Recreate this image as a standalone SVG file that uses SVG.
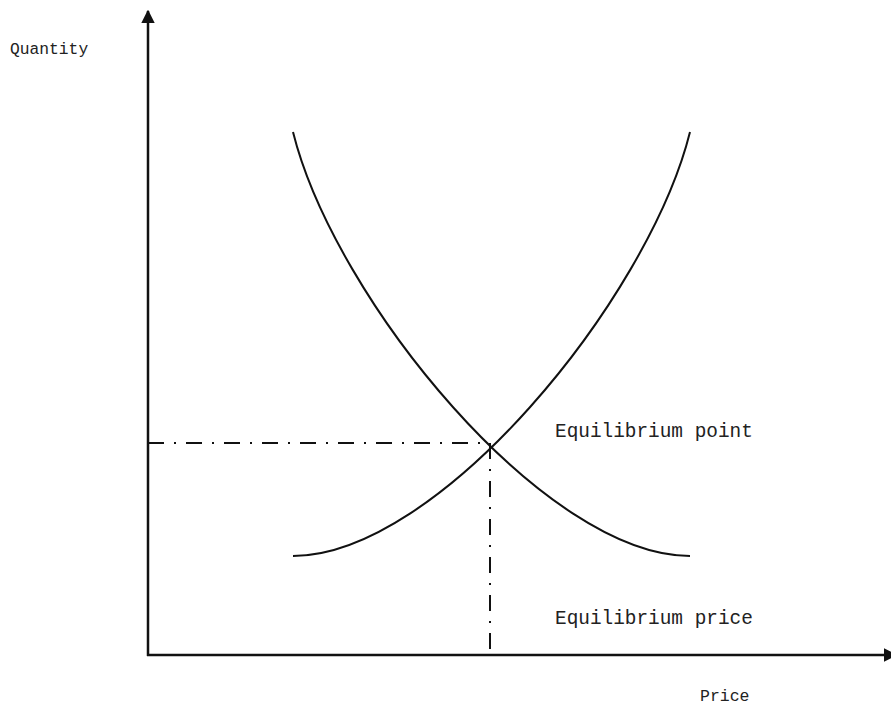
<svg xmlns="http://www.w3.org/2000/svg" width="891" height="707" viewBox="0 0 891 707">
  <style>
    .axis { stroke: #111; stroke-width: 2.5; fill: none; }
    .curve { stroke: #111; stroke-width: 2; fill: none; }
    .guide { stroke: #111; stroke-width: 2; fill: none; stroke-dasharray: 16 10 2 10; }
    .lbl { font-family: "Liberation Mono", "DejaVu Sans Mono", monospace; fill: #222; }
  </style>
  <defs>
    <marker id="arrow" viewBox="0 0 10 10" refX="9" refY="5" markerWidth="5.5" markerHeight="5.5" orient="auto" markerUnits="strokeWidth">
      <path d="M0,0 L10,5 L0,10 Z" fill="#111"/>
    </marker>
  </defs>
  <rect width="891" height="707" fill="#fff"/>
  <g id="connectors">
    <line id="y-axis" class="axis" x1="148" y1="656" x2="148" y2="11" marker-end="url(#arrow)"/>
    <line id="x-axis" class="axis" x1="147" y1="655" x2="896" y2="655" marker-end="url(#arrow)"/>
    <path id="demand" class="curve" d="M293,132 C335,300 545,556 690,556"/>
    <path id="supply" class="curve" d="M293,556 C438,556 648,300 690,132"/>
    <line id="guide-h" class="guide" x1="148" y1="443" x2="490" y2="443"/>
    <line id="guide-v" class="guide" x1="490" y1="443" x2="490" y2="655"/>
  </g>
  <g id="label-quantity"><text class="lbl" x="10" y="54" font-size="16.3">Quantity</text></g>
  <g id="label-eq-point"><text class="lbl" x="555" y="437" font-size="19.4">Equilibrium point</text></g>
  <g id="label-eq-price"><text class="lbl" x="555" y="624" font-size="19.4">Equilibrium price</text></g>
  <g id="label-price"><text class="lbl" x="700" y="701" font-size="16.5">Price</text></g>
</svg>
